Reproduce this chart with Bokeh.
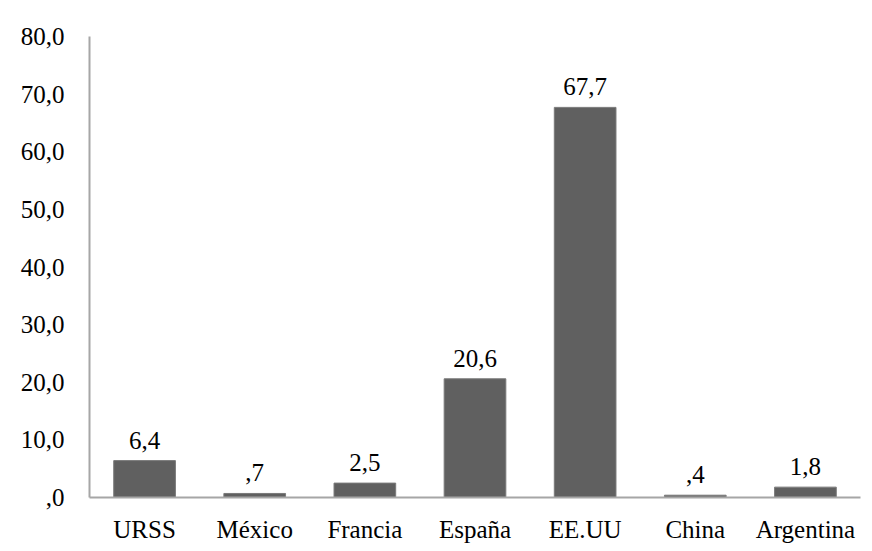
from bokeh.plotting import figure
from bokeh.models import ColumnDataSource, FixedTicker, CustomJSTickFormatter, LabelSet
from bokeh.embed import file_html
from bokeh.resources import INLINE

# Share by country (%)
countries = ["URSS", "México", "Francia", "España", "EE.UU", "China", "Argentina"]
values = [6.4, 0.7, 2.5, 20.6, 67.7, 0.4, 1.8]
value_labels = ["6,4", ",7", "2,5", "20,6", "67,7", ",4", "1,8"]
y_ticks = [0, 10, 20, 30, 40, 50, 60, 70, 80]

FONT = "Liberation Serif"

source = ColumnDataSource(dict(country=countries, value=values, label=value_labels))

p = figure(
    x_range=countries,
    y_range=(0, 80),
    width=872,
    height=551,
    output_backend="svg",
    toolbar_location=None,
    min_border_left=89,
    min_border_right=12,
    min_border_top=36,
    min_border_bottom=54,
)

p.vbar(x="country", top="value", width=0.56, source=source,
       fill_color="#606060", line_color="#7a7a7a", line_width=1)

labels = LabelSet(x="country", y="value", text="label", source=source,
                  text_align="center", text_baseline="bottom", y_offset=12,
                  text_font=FONT, text_font_size="25px", text_color="#000000")
p.add_layout(labels)

p.xgrid.visible = False
p.ygrid.visible = False
p.outline_line_color = None
p.background_fill_color = "white"
p.border_fill_color = "white"

p.yaxis.ticker = FixedTicker(ticks=y_ticks)
p.yaxis.formatter = CustomJSTickFormatter(code="""
    const s = tick.toFixed(1).replace('.', ',');
    return s.startsWith('0') ? s.slice(1) : s;
""")

for ax in (p.xaxis[0], p.yaxis[0]):
    ax.axis_line_color = "#a6a6a6"
    ax.axis_line_width = 2
    ax.major_tick_line_color = None
    ax.minor_tick_line_color = None
    ax.major_label_text_font = FONT
    ax.major_label_text_font_size = "25px"
    ax.major_label_text_color = "#000000"

p.yaxis.major_label_standoff = 19
p.xaxis.major_label_standoff = 12

open("out.html", "w").write(file_html(p, INLINE))
